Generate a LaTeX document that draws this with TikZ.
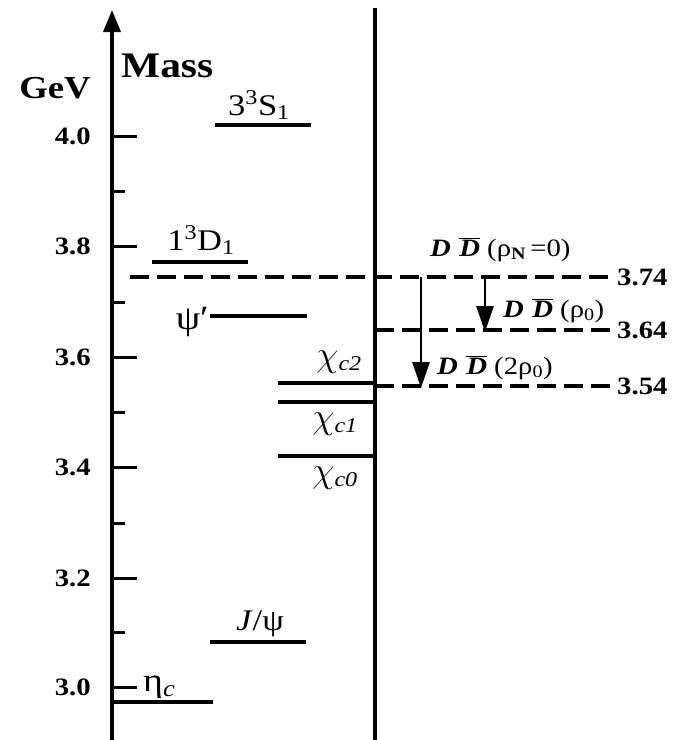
\RequirePackage{fix-cm}
\documentclass[tikz,border=0pt]{standalone}
\usepackage{fontspec}
\setmainfont{Liberation Serif}[FakeStretch=1.15]
\usetikzlibrary{arrows.meta,positioning}
\newcommand{\DDbar}{\textbf{\textit{D}}\,\,$\overline{\mbox{\textbf{\textit{D}}}}$}
\newcommand{\chic}[1]{{\fontsize{36}{38}\selectfont$\chi$}\textsubscript{\textit{c#1}}}

\begin{document}
\begin{tikzpicture}[
    x=1pt, y=-1pt,
    axis/.style={line width=3.4pt},
    level/.style={line width=3.6pt},
    thresh/.style={line width=3.6pt, dash pattern=on 19pt off 8pt},
    tickmark/.style={line width=3pt},
    statelbl/.style={font=\fontsize{30}{32}\selectfont, inner sep=0pt},
    masslbl/.style={font=\bfseries\fontsize{25}{27}\selectfont, inner sep=0pt},
    dd/.style={font=\fontsize{25}{27}\selectfont, inner sep=0pt},
    arrow/.style={-{Triangle[length=26pt,width=17pt]}, line width=2.8pt}
]
\useasboundingbox (0,0) rectangle (681,740);

% mass axis
\coordinate (axbot) at (112,740);
\coordinate (axtop) at (112,10);
\draw[axis, -{Triangle[length=22pt,width=17pt]}] (axbot) -- (axtop);
\node[font=\bfseries\fontsize{36}{38}\selectfont, anchor=base west, inner sep=0pt] (mass) at (121,77) {Mass};
\node[font=\bfseries\fontsize{32}{34}\selectfont, anchor=base east, inner sep=0pt] (gev) at (91,98) {GeV};
\foreach \y/\l in {136/4.0, 246/3.8, 357/3.6, 467/3.4, 578/3.2, 687/3.0}{
    \draw[tickmark] (112,\y) -- (137,\y);
    \node[masslbl, anchor=east] at (91,\y) {\l};
}
\foreach \y in {191,302,412,523,632}
    \draw[tickmark] (112,\y) -- (125,\y);

% right boundary
\coordinate (rtop) at (375,8);
\coordinate (rbot) at (375,740);
\draw[axis] (rtop) -- (rbot);

% charmonium levels
\draw[level] (215,125) -- (311,125);
\node[statelbl, anchor=base] (s3) at (259,115) {3\textsuperscript{3}S\textsubscript{1}};
\draw[level] (152,262) -- (248,262);
\node[statelbl, anchor=base] (d1) at (201,250) {1\textsuperscript{3}D\textsubscript{1}};
\draw[level] (210,316) -- (307,316);
\node[statelbl, font=\fontsize{34}{36}\selectfont, anchor=east] (psi2) at (209,322) {ψ′};
\draw[level] (278,383) -- (375,383);
\node[statelbl, anchor=base east] (chi2) at (362,366) {\chic{2}};
\draw[level] (278,402) -- (375,402);
\node[statelbl, anchor=base east] (chi1) at (358,428) {\chic{1}};
\draw[level] (278,456) -- (375,456);
\node[statelbl, anchor=base east] (chi0) at (358,482) {\chic{0}};
\draw[level] (210,642) -- (306,642);
\node[statelbl, anchor=south] (jpsi) at (260,637) {\textit{J}/ψ};
\draw[level] (112,702) -- (213,702);
\node[statelbl, font=\fontsize{33}{35}\selectfont, anchor=south west] (etac) at (143,699) {η\textsubscript{\textit{c}}};

% D Dbar thresholds
\draw[thresh] (130,277) -- (612,277);
\draw[thresh] (375,330) -- (612,330);
\draw[thresh] (375,386) -- (612,386);
\node[masslbl, anchor=west] (t374) at (617,277) {3.74};
\node[masslbl, anchor=west] (t364) at (617,330) {3.64};
\node[masslbl, anchor=west] (t354) at (617,386) {3.54};
\node[dd, anchor=base west] (dd0) at (430,256) {\DDbar\ (ρ\textsubscript{\textbf{N}}\,=0)};
\node[dd, anchor=base west] (dd1) at (503,317) {\DDbar\ (ρ\textsubscript{0})};
\node[dd, anchor=base west] (dd2) at (437,374) {\DDbar\ (2ρ\textsubscript{0})};

\coordinate (a1top) at (421,277);
\coordinate (a1bot) at (421,388);
\coordinate (a2top) at (485,277);
\coordinate (a2bot) at (485,332);
\draw[arrow] (a1top) -- (a1bot);
\draw[arrow] (a2top) -- (a2bot);
\end{tikzpicture}
\end{document}
